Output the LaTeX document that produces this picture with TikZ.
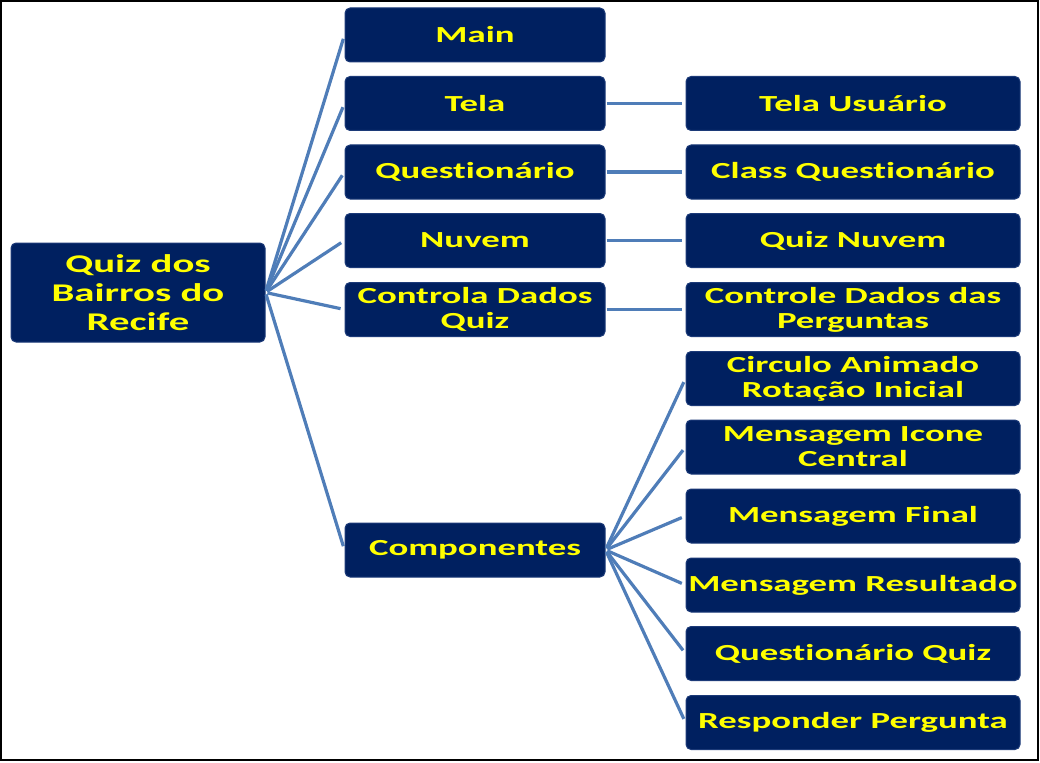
\documentclass[tikz,border=0pt]{standalone}
\usepackage{fontspec}
\setmainfont{Carlito}[FakeStretch=1.6, Ligatures={NoCommon}]
\definecolor{boxfill}{HTML}{002060}
\definecolor{boxedge}{HTML}{1C3A78}
\definecolor{txt}{HTML}{FFFF00}
\definecolor{link}{HTML}{4F7DB8}
\tikzset{
  box/.style={draw=boxedge, line width=1pt, fill=boxfill, rounded corners=5pt,
    text=txt, align=center, inner sep=1pt,
    font=\bfseries\fontsize{23}{25}\selectfont},
  midbox/.style={box, minimum width=260pt, minimum height=54pt},
  rightbox/.style={box, minimum width=334pt, minimum height=54pt},
  rootbox/.style={box, minimum width=254pt, minimum height=99pt,
    font=\bfseries\fontsize{25.5}{29}\selectfont},
  link/.style={draw=link, line width=3.2pt}
}
\begin{document}
\begin{tikzpicture}[x=1pt,y=-1pt]
\useasboundingbox (0,0) rectangle (1040,762);
\draw[black, line width=2pt] (1,1) rectangle (1038,760);

\node[rootbox] (root) at (138,292.5) {Quiz dos\\Bairros do\\Recife};

\node[midbox] (main) at (475,35) {Main};
\node[midbox] (tela) at (475,103.5) {Tela};
\node[midbox] (quest) at (475,172) {Questionário};
\node[midbox] (nuvem) at (475,240.5) {Nuvem};
\node[midbox] (controla) at (475,309.5) {Controla Dados\\Quiz};
\node[midbox] (comp) at (475,550) {Componentes};

\node[rightbox] (telau) at (853,103.5) {Tela Usuário};
\node[rightbox] (classq) at (853,172) {Class Questionário};
\node[rightbox] (quizn) at (853,240.5) {Quiz Nuvem};
\node[rightbox] (ctrl) at (853,309.5) {Controle Dados das\\Perguntas};
\node[rightbox] (circ) at (853,378.5) {Circulo Animado\\Rotação Inicial};
\node[rightbox] (micone) at (853,447) {Mensagem Icone\\Central};
\node[rightbox] (mfinal) at (853,516) {Mensagem Final};
\node[rightbox] (mres) at (853,585) {Mensagem Resultado};
\node[rightbox] (qquiz) at (853,653.5) {Questionário Quiz};
\node[rightbox] (resp) at (853,722.5) {Responder Pergunta};

\foreach \t in {main,tela,quest,nuvem,controla,comp}
  \draw[link, shorten <=2pt, shorten >=4pt] (root.east) -- (\t.west);
\foreach \s/\t in {tela/telau,quest/classq,nuvem/quizn,controla/ctrl}
  \draw[link, shorten <=1pt, shorten >=4pt] (\s.east) -- (\t.west);
\foreach \t in {circ,micone,mfinal,mres,qquiz,resp}
  \draw[link, shorten <=2pt, shorten >=4pt] (comp.east) -- (\t.west);
\end{tikzpicture}
\end{document}
